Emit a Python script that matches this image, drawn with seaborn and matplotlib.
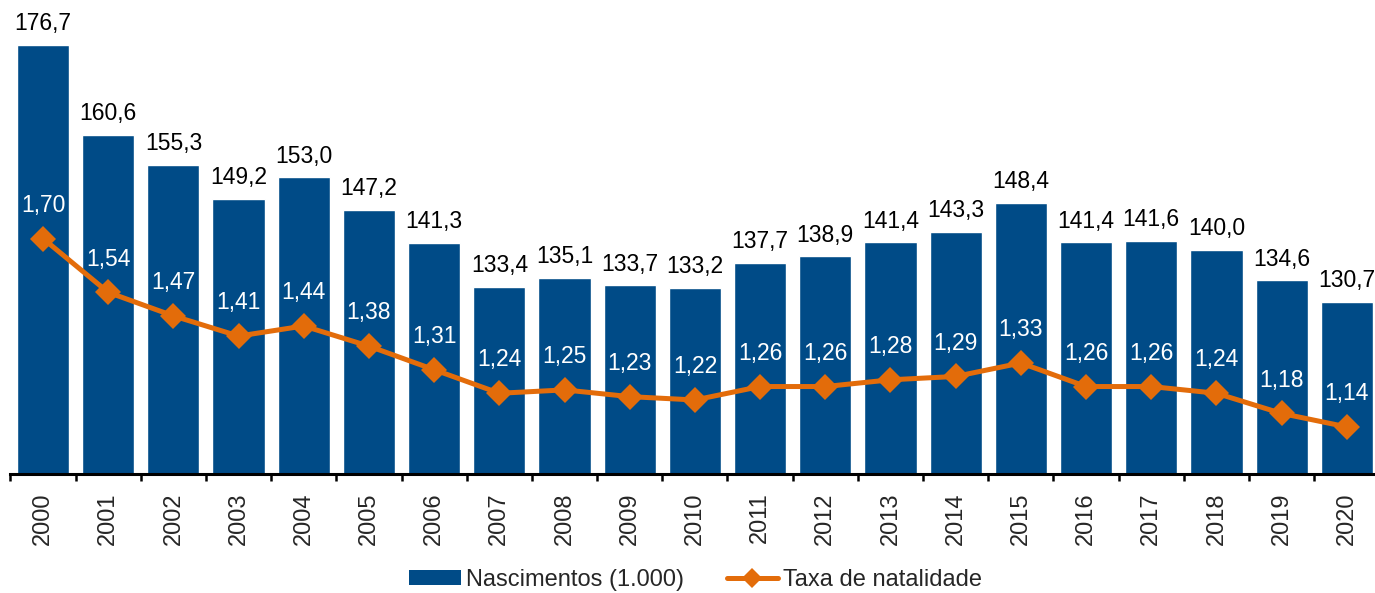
import numpy as np
import pandas as pd
import seaborn as sns
import matplotlib.pyplot as plt
from matplotlib.lines import Line2D
from matplotlib.patches import Patch

anos = ['2000', '2001', '2002', '2003', '2004', '2005', '2006', '2007', '2008', '2009', '2010',
        '2011', '2012', '2013', '2014', '2015', '2016', '2017', '2018', '2019', '2020']
nascimentos = [176.7, 160.6, 155.3, 149.2, 153.0, 147.2, 141.3, 133.4, 135.1, 133.7, 133.2,
               137.7, 138.9, 141.4, 143.3, 148.4, 141.4, 141.6, 140.0, 134.6, 130.7]
taxa = [1.70, 1.54, 1.47, 1.41, 1.44, 1.38, 1.31, 1.24, 1.25, 1.23, 1.22,
        1.26, 1.26, 1.28, 1.29, 1.33, 1.26, 1.26, 1.24, 1.18, 1.14]

azul = '#004b87'
laranja = '#e36c0a'

sns.set_style('white')
plt.rcParams['font.family'] = ['Liberation Sans', 'DejaVu Sans']
plt.rcParams['font.size'] = 16.5

df = pd.DataFrame({'ano': anos, 'nasc': nascimentos, 'taxa': taxa})

fig = plt.figure(figsize=(13.75, 5.93), dpi=100)
ax = fig.add_axes([10.4 / 1375, 119 / 593, 1369 / 1375, 474 / 593])

sns.barplot(data=df, x='ano', y='nasc', color=azul, saturation=1, width=0.8, ax=ax)
ax.set_ylim(100, 184.7)
ax.set_xlim(-0.5, 20.5)
ax.bar_label(ax.containers[0], labels=[f'{v:.1f}'.replace('.', ',') for v in nascimentos],
             padding=7, fontsize=16.5, color='black')

# line on second axis
ax2 = ax.twinx()
sns.lineplot(x=np.arange(len(anos)), y=taxa, ax=ax2, color=laranja, lw=3.6,
             marker='D', markersize=13.5, markeredgewidth=0)
ax2.set_ylim(1.0, 2.409)
ax2.set_xlim(-0.5, 20.5)
for i, v in enumerate(taxa):
    ax2.annotate(f'{v:.2f}'.replace('.', ','), (i, v), xytext=(0, 24), textcoords='offset points',
                 ha='center', va='center', color='white', fontsize=16.5)

for a in (ax, ax2):
    a.set_ylabel('')
    a.set_yticks([])
    for s in ['top', 'right', 'left']:
        a.spines[s].set_visible(False)
ax2.spines['bottom'].set_visible(False)
ax.spines['bottom'].set_linewidth(2.2)
ax.spines['bottom'].set_color('black')
ax.set_xlabel('')
ax.set_xticks(np.arange(-0.5, 21, 1))
ax.set_xticklabels([])
ax.tick_params(axis='x', which='major', length=5, width=1.8, direction='out', color='black', bottom=True)
ax.set_xticks(np.arange(len(anos)), minor=True)
ax.set_xticklabels(anos, minor=True, rotation=90, fontsize=17)
ax.tick_params(axis='x', which='minor', length=0, pad=13)

handles = [Patch(facecolor=azul, edgecolor='none'),
           Line2D([0], [0], color=laranja, lw=3.6, marker='D', markersize=10, markeredgewidth=0)]
fig.legend(handles, ['Nascimentos (1.000)', 'Taxa de natalidade'], loc='center',
           bbox_to_anchor=(0.506, 0.022), ncol=2, frameon=False, fontsize=17,
           handlelength=2.2, handleheight=0.55, handletextpad=0.2, columnspacing=1.8)

fig.savefig('out.png', dpi=100)
